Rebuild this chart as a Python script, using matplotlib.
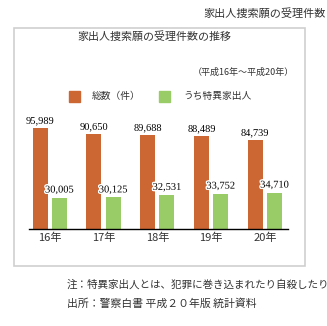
import numpy as np
import matplotlib.pyplot as plt
import matplotlib.patheffects as pe
from matplotlib.patches import Rectangle

plt.rcParams['font.family'] = ['Noto Sans CJK JP', 'DejaVu Sans']

# データ（平成16年～平成20年）
years = ['16年', '17年', '18年', '19年', '20年']
total = [95989, 90650, 89688, 88489, 84739]      # 総数（件）
special = [30005, 30125, 32531, 33752, 34710]    # うち特異家出人

W, H = 327, 326
TXT = '#333333'
ORANGE = '#CC6633'
GREEN = '#99CC66'

''' ピクセル座標 -> figure 座標 '''
def fx(px):
    return px / W

def fy(py):
    return 1 - py / H

fig = plt.figure(figsize=(W / 100, H / 100), dpi=100)

# 外枠
fig.add_artist(Rectangle((fx(14), fy(265.5)), 291 / W, 238 / H, transform=fig.transFigure,
                         fill=False, edgecolor='#CFCFCF', linewidth=1.2))

fig.text(fx(326), fy(14), '家出人捜索願の受理件数', ha='right', va='center', fontsize=8, color=TXT)
fig.text(fx(77), fy(37), '家出人捜索願の受理件数の推移', ha='left', va='center', fontsize=7.9, color=TXT)
fig.text(fx(294), fy(72), '（平成16年～平成20年）', ha='right', va='center', fontsize=6.5, color=TXT)

# 凡例
fig.add_artist(Rectangle((fx(69), fy(102)), 11 / W, 11 / H, transform=fig.transFigure, color=ORANGE))
fig.add_artist(Rectangle((fx(159), fy(102)), 11 / W, 11 / H, transform=fig.transFigure, color=GREEN))
fig.text(fx(92), fy(96), '総数（件）', ha='left', va='center', fontsize=7, color=TXT)
fig.text(fx(183), fy(96), 'うち特異家出人', ha='left', va='center', fontsize=7, color=TXT)

# 棒グラフ
ax = fig.add_axes([fx(29), fy(229), 259 / W, 119 / H])
x = np.arange(len(years))
bw = 0.279
off = 0.177
ax.bar(x - off, total, bw, color=ORANGE)
ax.bar(x + off, special, bw, color=GREEN)

for i in range(len(years)):
    ax.annotate(f'{total[i]:,}', (x[i] - off, total[i]), xytext=(0, 5.4), textcoords='offset points',
                ha='center', va='center', family='Liberation Serif', fontsize=7.5, color='black')
    ax.annotate(f'{special[i]:,}', (x[i] + off, special[i]), xytext=(0, 5.4), textcoords='offset points',
                ha='center', va='center', family='Liberation Serif', fontsize=7.5, color='black',
                path_effects=[pe.withStroke(linewidth=2, foreground='white')])

ax.set_xlim(-0.385, 4.43)
ax.set_ylim(0, 113500)
ax.set_xticks(x)
ax.set_xticklabels(years, fontsize=8, color=TXT)
ax.tick_params(axis='x', length=0, pad=2.5)
ax.set_yticks([])
for s in ['top', 'right', 'left']:
    ax.spines[s].set_visible(False)
ax.spines['bottom'].set_linewidth(1)
ax.spines['bottom'].set_color('black')
ax.patch.set_alpha(0)

# 注・出所
fig.text(fx(67), fy(284.5), '注：特異家出人とは、犯罪に巻き込まれたり自殺したり',
         ha='left', va='center', fontsize=7.6, color=TXT)
fig.text(fx(67), fy(304), '出所：警察白書 平成２０年版 統計資料',
         ha='left', va='center', fontsize=7.8, color=TXT)

fig.savefig('out.png', dpi=100)
